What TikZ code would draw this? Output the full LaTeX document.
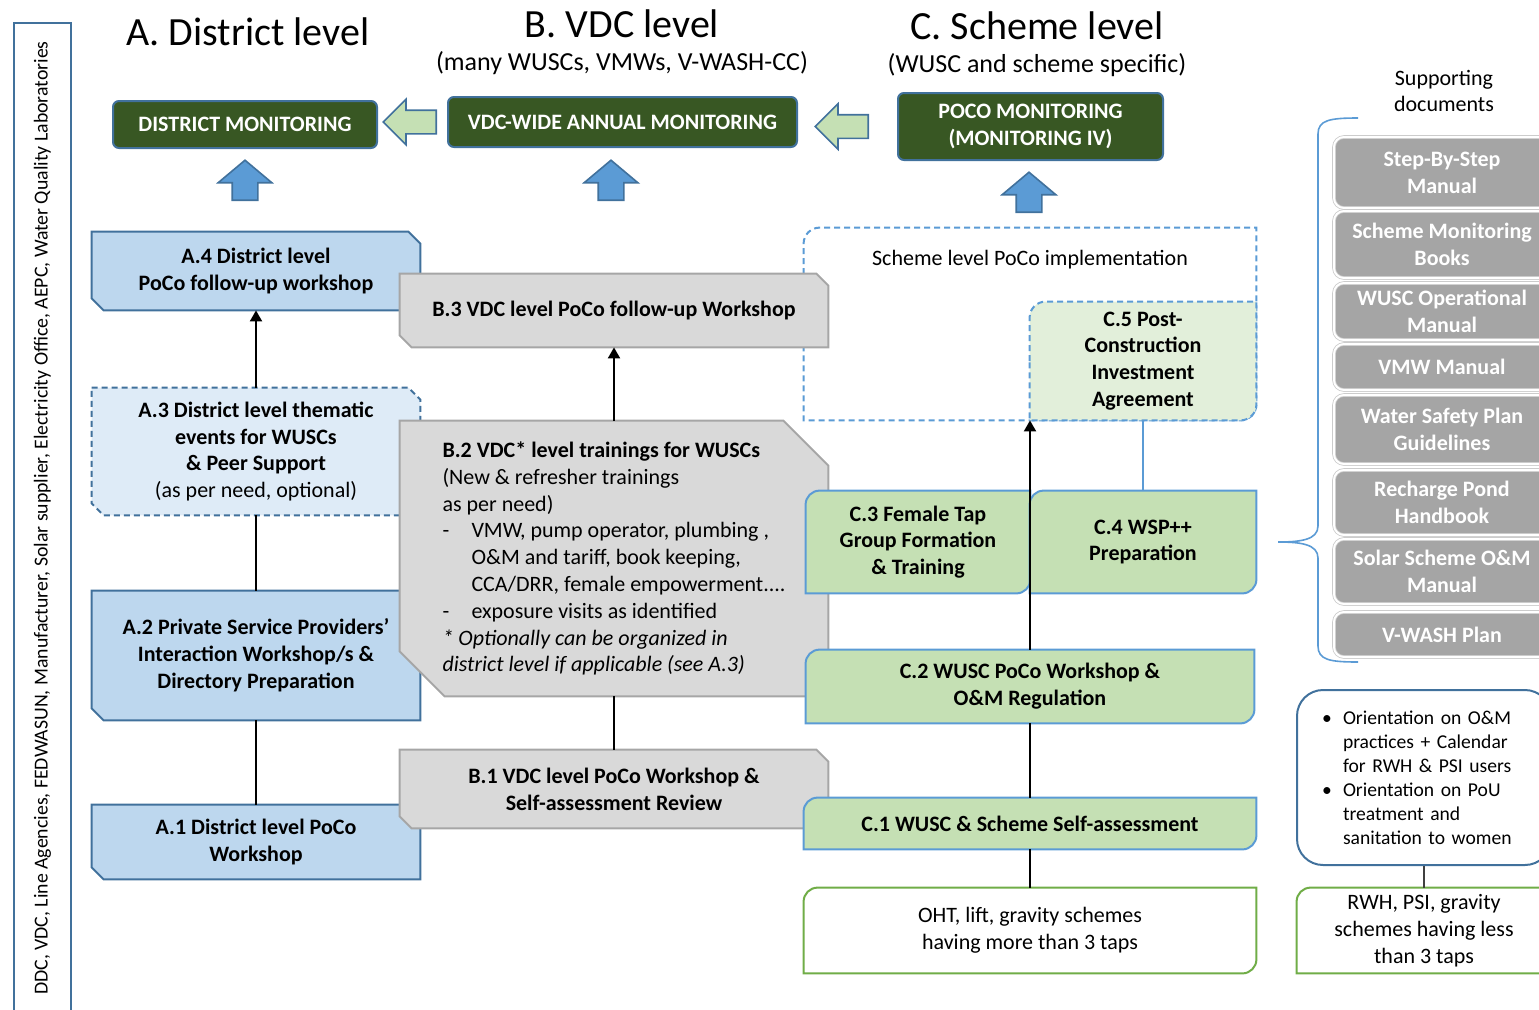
\documentclass[tikz,border=0pt]{standalone}
\usepackage{fontspec}
\setmainfont{Carlito}
\usetikzlibrary{arrows.meta, calc, shapes.arrows, backgrounds}
\definecolor{afill}{HTML}{BDD7EE}
\definecolor{alight}{HTML}{DEEBF7}
\definecolor{aline}{HTML}{41719C}
\definecolor{bfill}{HTML}{D9D9D9}
\definecolor{bline}{HTML}{A6A6A6}
\definecolor{cfill}{HTML}{C5E0B4}
\definecolor{clight}{HTML}{E2EFDA}
\definecolor{cline}{HTML}{5B9BD5}
\definecolor{gline}{HTML}{70AD47}
\definecolor{mgreen}{HTML}{385723}
\definecolor{dgray}{HTML}{A5A5A5}
\newcommand\cutbox[3]{\begin{scope}[on background layer]
\draw[#3] (#1.north west) -- ($(#1.north east)+(-#2pt,0)$) -- ($(#1.north east)+(0,-#2pt)$) -- (#1.south east) -- ($(#1.south west)+(#2pt,0)$) -- ($(#1.south west)+(0,#2pt)$) -- cycle;
\end{scope}}
\newcommand\leafbox[3]{\begin{scope}[on background layer]
\draw[#3] (#1.west) [rounded corners=#2pt] -- (#1.north west) -- (#1.north) [sharp corners] -- (#1.north east) -- (#1.east) [rounded corners=#2pt] -- (#1.south east) -- (#1.south) [sharp corners] -- (#1.south west) -- cycle;
\end{scope}}
\tikzset{
  box/.style={align=center, inner sep=0pt, font=\fontsize{11}{13.4}\selectfont\bfseries},
  plain/.style={box, font=\fontsize{11}{13.4}\selectfont},
  title/.style={font=\fontsize{20}{22}\selectfont},
  sub/.style={font=\fontsize{13}{15}\selectfont},
  mon/.style={box, fill=mgreen, draw=aline, line width=1pt, rounded corners=3pt, text=white},
  doc/.style={box, fill=dgray, draw=black!20, double=white, double distance=1pt, rounded corners=5pt, text=white, minimum width=108pt},
  abox/.style={fill=afill, draw=aline, line width=1pt},
  adash/.style={abox, fill=alight, dash pattern=on 3pt off 2pt},
  bbox/.style={fill=bfill, draw=bline, line width=1pt},
  cbox/.style={fill=cfill, draw=cline, line width=1pt},
  cdash/.style={cbox, fill=clight, dash pattern=on 3pt off 2pt},
  gbox/.style={fill=white, draw=gline, line width=1pt},
  conn/.style={line width=1pt},
  arr/.style={conn, -{Triangle[width=6pt,length=5.5pt]}},
  larrow/.style={single arrow, rotate=180, anchor=tail, fill=cfill, draw=aline, line width=0.8pt, minimum height=26.5pt, minimum width=22pt, single arrow head extend=5.5pt, inner sep=5.5pt},
  uarrow/.style={single arrow, rotate=90, anchor=tail, fill=cline, draw=aline, line width=0.8pt, minimum height=20pt, minimum width=26pt, single arrow head extend=7pt, single arrow tip angle=100, inner sep=6pt}
}
\begin{document}
\begin{tikzpicture}[x=0.5pt, y=-0.5pt]
\useasboundingbox (0,0) rectangle (1539,1009);
\node[rotate=90, draw=aline, line width=1pt, minimum width=495pt, minimum height=28.5pt, font=\fontsize{9.9}{11}\selectfont] (side) at (42.5,518) {DDC, VDC, Line Agencies, FEDWASUN, Manufacturer, Solar supplier, Electricity Office, AEPC, Water Quality Laboratories};

\node[title] (ta) at (248,32) {A. District level};
\node[title] (tb) at (622,24) {B. VDC level};
\node[sub] (tbs) at (622,63) {(many WUSCs, VMWs, V-WASH-CC)};
\node[title] (tc) at (1037,26) {C. Scheme level};
\node[sub] (tcs) at (1037,65) {(WUSC and scheme specific)};

\node[mon, minimum width=132pt, minimum height=23.5pt] (dm) at (245,124.5) {DISTRICT MONITORING};
\node[mon, minimum width=174.5pt, minimum height=25pt] (vm) at (622.5,122) {VDC-WIDE ANNUAL MONITORING};
\node[mon, minimum width=132.5pt, minimum height=33.5pt] (pm) at (1030.5,126.5) {POCO MONITORING\\(MONITORING IV)};
\node[larrow] (vtod) at ($(vm.west)+(-5pt,0)$) {};
\node[larrow] (ptov) at ($(pm.west)+(-14pt,0)$) {};
\node[uarrow] (ua) at (245,201) {};
\node[uarrow] (ub) at (611,201) {};
\node[uarrow] (uc) at (1029,213) {};

\node[box, minimum width=164pt, minimum height=39pt] (a4) at (256,271) {A.4 District level\\PoCo follow-up workshop};
\node[box, minimum width=164pt, minimum height=63.5pt] (a3) at (256,451.5) {A.3 District level thematic\\events for WUSCs\\\& Peer Support\\{\mdseries (as per need, optional)}};
\node[box, minimum width=164pt, minimum height=64.5pt] (a2) at (256,655.5) {A.2 Private Service Providers’\\Interaction Workshop/s \&\\Directory Preparation};
\node[box, minimum width=164pt, minimum height=37pt] (a1) at (256,842) {A.1 District level PoCo\\Workshop};
\cutbox{a4}{6}{abox}
\cutbox{a3}{6}{adash}
\cutbox{a2}{6}{abox}
\cutbox{a1}{6}{abox}

\node[minimum width=226pt, minimum height=96pt, label={[anchor=center, yshift=-16pt, font=\fontsize{11}{13}\selectfont]north:Scheme level PoCo implementation}] (impl) at (1030,324) {};
\leafbox{impl}{8}{draw=cline, line width=1pt, dash pattern=on 3pt off 2pt}

\node[box, minimum width=214pt, minimum height=36.5pt] (b3) at (614,310.5) {B.3 VDC level PoCo follow-up Workshop};
\node[plain, align=left, minimum width=214pt, minimum height=137.5pt] (b2) at (614,558.5) {\textbf{B.2 VDC* level trainings for WUSCs}\\(New \& refresher trainings\\as per need)\\\makebox[14.5pt][l]{-}VMW, pump operator, plumbing ,\\\hspace*{14.5pt}O\&M and tariff, book keeping,\\\hspace*{14.5pt}CCA/DRR, female empowerment....\\\makebox[14.5pt][l]{-}exposure visits as identified\\\textit{* Optionally can be organized in}\\\textit{district level if applicable (see A.3)}};
\node[box, minimum width=214pt, minimum height=39pt] (b1) at (614,789) {B.1 VDC level PoCo Workshop \&\\Self-assessment Review};
\cutbox{b3}{6}{bbox}
\cutbox{b2}{22.5}{bbox}
\cutbox{b1}{6}{bbox}

\node[box, minimum width=113pt, minimum height=59pt] (c5) at (1143,361) {C.5 Post-\\Construction\\Investment\\Agreement};
\node[box, minimum width=112pt, minimum height=51pt] (c3) at (918,542) {C.3 Female Tap\\Group Formation\\\& Training};
\node[box, minimum width=113pt, minimum height=51pt] (c4) at (1143,542) {C.4 WSP++\\Preparation};
\node[box, minimum width=224pt, minimum height=36.5pt] (c2) at (1030,686.5) {C.2 WUSC PoCo Workshop \&\\O\&M Regulation};
\node[box, minimum width=226pt, minimum height=25.5pt] (c1) at (1030,823.5) {C.1 WUSC \& Scheme Self-assessment};
\node[plain, minimum width=226pt, minimum height=42.5pt] (oht) at (1030,930.5) {OHT, lift, gravity schemes\\having more than 3 taps};
\leafbox{c5}{8}{cdash}
\leafbox{c3}{7}{cbox}
\leafbox{c4}{7}{cbox}
\leafbox{c2}{7}{cbox}
\leafbox{c1}{7}{cbox}
\leafbox{oht}{7}{gbox}

\node[font=\fontsize{11}{13}\selectfont, align=center] (sd) at (1444,91) {Supporting\\documents};
\draw[cline, line width=0.8pt] (1358,118) .. controls (1330,118) and (1318,120) .. (1318,134) -- (1318,526) .. controls (1318,540) and (1300,542) .. (1278,542) .. controls (1300,542) and (1318,544) .. (1318,558) -- (1318,646) .. controls (1318,660) and (1330,662) .. (1358,662);
\node[doc, minimum height=35.5pt] (d1) at (1442,172.5) {Step-By-Step\\Manual};
\node[doc, minimum height=33.5pt] (d2) at (1442,244.5) {Scheme Monitoring\\Books};
\node[doc, minimum height=28.5pt] (d3) at (1442,311.5) {WUSC Operational\\Manual};
\node[doc, minimum height=23pt] (d4) at (1442,367) {VMW Manual};
\node[doc, minimum height=34.5pt] (d5) at (1442,429.5) {Water Safety Plan\\Guidelines};
\node[doc, minimum height=32.5pt] (d6) at (1442,502.5) {Recharge Pond\\Handbook};
\node[doc, minimum height=32.5pt] (d7) at (1442,571.5) {Solar Scheme O\&M\\Manual};
\node[doc, minimum height=22.5pt] (d8) at (1442,634.5) {V-WASH Plan};

\node[plain, font=\fontsize{9.8}{12}\selectfont, align=left, text width=102pt, draw=aline, line width=1pt, rounded corners=13pt, minimum width=127pt, minimum height=87.5pt] (ori) at (1424,777.5) {\makebox[10.5pt][l]{\textbullet}Orientation on O\&M\\\hspace*{10.5pt}practices + Calendar\\\hspace*{10.5pt}for RWH \& PSI users\\\makebox[10.5pt][l]{\textbullet}Orientation on PoU\\\hspace*{10.5pt}treatment and\\\hspace*{10.5pt}sanitation to women};
\node[plain, minimum width=127pt, minimum height=42.5pt] (rwh) at (1424,930.5) {RWH, PSI, gravity\\schemes having less\\than 3 taps};
\leafbox{rwh}{7}{gbox}

\draw[conn] (a1) -- (a2);
\draw[conn] (a2) -- (a3);
\draw[arr] (a3) -- (a4);
\draw[conn] (b1) -- (b2);
\draw[arr] (b2) -- (b3);
\draw[conn] (oht) -- (c1);
\draw[conn] (c1) -- (c2);
\draw[arr] (c2) -- (c2 |- c5.south);
\draw[cline, line width=0.6pt] (c4) -- (c5);
\draw[black!75, line width=0.6pt] (ori) -- (rwh);
\end{tikzpicture}
\end{document}
